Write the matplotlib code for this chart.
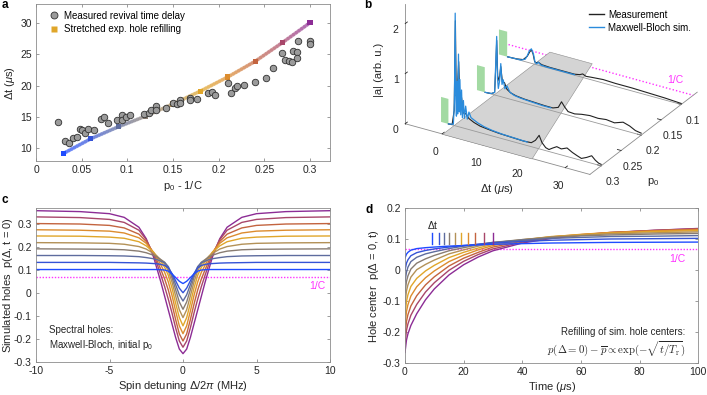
import numpy as np
import matplotlib
matplotlib.use('Agg')
import matplotlib.pyplot as plt
from matplotlib.collections import LineCollection
from matplotlib.lines import Line2D
from matplotlib.colors import to_rgb
from mpl_toolkits.mplot3d.art3d import Poly3DCollection

plt.rcParams['font.family'] = ['Liberation Sans', 'DejaVu Sans']
plt.rcParams['axes.unicode_minus'] = False
plt.rcParams['mathtext.fontset'] = 'custom'
plt.rcParams['mathtext.rm'] = 'Liberation Sans'
plt.rcParams['mathtext.it'] = 'Liberation Sans:italic'

# ---------------- data ----------------
colors10 = ['#1f4cff', '#3553d6', '#5e6c9e', '#887c72', '#b39157',
            '#e0a62a', '#dc8c2e', '#c3643f', '#a8466a', '#8c2c95']

# panel a: measured revival delays
meas_x = [0.0237, 0.0318, 0.0365, 0.0409, 0.0445, 0.0482, 0.0507, 0.0536, 0.0573, 0.0639,
          0.0708, 0.0748, 0.0785, 0.089, 0.0945, 0.0945, 0.0985, 0.1029, 0.1182, 0.1237,
          0.1255, 0.131, 0.131, 0.142, 0.150, 0.154, 0.158, 0.158, 0.169, 0.169,
          0.176, 0.1887, 0.1923, 0.196, 0.2099, 0.2135, 0.218, 0.2204, 0.228, 0.2398,
          0.2515, 0.2599, 0.269, 0.2726, 0.2774, 0.280, 0.2818, 0.2854, 0.2861, 0.2865,
          0.300, 0.300]
meas_y = [14.26, 11.17, 10.8, 11.6, 11.76, 13.03, 12.9, 12.5, 13.1, 12.9,
          14.7, 14.95, 14.1, 14.6, 15.3, 14.6, 15.05, 15.3, 15.5, 15.7,
          16.06, 16.75, 16.2, 16.5, 17.3, 17.1, 17.7, 17.3, 18.1, 17.7,
          17.9, 18.8, 19.04, 18.6, 20.4, 18.8, 19.7, 19.95, 20.2, 20.6,
          21.2, 22.9, 25.2, 24.1, 24.0, 23.8, 25.5, 25.4, 24.4, 27.1,
          27.1, 26.6]
# panel a: stretched-exponential model points
model_x = [0.03, 0.06, 0.09, 0.12, 0.15, 0.18, 0.21, 0.24, 0.27, 0.30]
model_y = [9.2, 11.55, 13.45, 15.15, 17.1, 19.15, 21.4, 23.9, 26.9, 30.05]

# panel c: spectral hole profiles (half profile, mirrored)
detuning = [0, 0.25, 0.5, 0.75, 1.0, 1.25, 1.5, 1.75, 2.0, 2.5, 3.0, 4.0, 5.0, 7.0, 10.0]
hole_01 = [0.040, 0.050, 0.066, 0.082, 0.094, 0.099, 0.100, 0.101, 0.101, 0.101, 0.101, 0.101, 0.101, 0.101, 0.101]
hole_02 = [0.000, 0.020, 0.052, 0.084, 0.108, 0.119, 0.123, 0.126, 0.127, 0.129, 0.130, 0.131, 0.132, 0.132, 0.132]
hole_03 = [-0.036, -0.009, 0.035, 0.079, 0.114, 0.131, 0.137, 0.144, 0.148, 0.153, 0.157, 0.160, 0.161, 0.162, 0.162]
hole_04 = [-0.072, -0.040, 0.013, 0.067, 0.110, 0.133, 0.144, 0.155, 0.163, 0.174, 0.181, 0.187, 0.189, 0.190, 0.191]
hole_05 = [-0.108, -0.074, -0.014, 0.047, 0.096, 0.125, 0.142, 0.158, 0.171, 0.190, 0.201, 0.211, 0.215, 0.217, 0.218]
hole_06 = [-0.144, -0.108, -0.046, 0.021, 0.076, 0.111, 0.135, 0.157, 0.176, 0.204, 0.222, 0.237, 0.242, 0.246, 0.247]
hole_07 = [-0.178, -0.144, -0.080, -0.011, 0.047, 0.089, 0.120, 0.150, 0.176, 0.215, 0.239, 0.260, 0.268, 0.272, 0.274]
hole_08 = [-0.210, -0.179, -0.117, -0.049, 0.012, 0.060, 0.100, 0.137, 0.172, 0.223, 0.255, 0.282, 0.293, 0.299, 0.301]
hole_09 = [-0.237, -0.210, -0.153, -0.088, -0.028, 0.027, 0.076, 0.122, 0.166, 0.231, 0.272, 0.306, 0.319, 0.327, 0.330]
hole_10 = [-0.265, -0.245, -0.195, -0.135, -0.075, -0.015, 0.045, 0.100, 0.155, 0.235, 0.285, 0.328, 0.344, 0.353, 0.357]
inv_C = 0.07

# panel d: hole-center refilling
time_us = [0, 0.5, 1, 2, 4, 7, 10, 15, 20, 25, 30, 40, 50, 60, 70, 85, 100]
refill_01 = [0.040, 0.052, 0.058, 0.065, 0.070, 0.073, 0.075, 0.078, 0.080, 0.082, 0.084, 0.086, 0.088, 0.089, 0.090, 0.0905, 0.091]
refill_02 = [0.000, 0.023, 0.034, 0.047, 0.057, 0.064, 0.069, 0.075, 0.080, 0.084, 0.088, 0.093, 0.097, 0.099, 0.101, 0.102, 0.103]
refill_03 = [-0.036, -0.006, 0.010, 0.028, 0.042, 0.053, 0.060, 0.070, 0.078, 0.084, 0.090, 0.097, 0.103, 0.106, 0.109, 0.110, 0.112]
refill_04 = [-0.072, -0.036, -0.018, 0.004, 0.023, 0.037, 0.048, 0.063, 0.073, 0.082, 0.090, 0.099, 0.106, 0.111, 0.114, 0.117, 0.119]
refill_05 = [-0.108, -0.067, -0.047, -0.022, 0.002, 0.019, 0.033, 0.053, 0.066, 0.078, 0.088, 0.099, 0.108, 0.113, 0.118, 0.121, 0.124]
refill_06 = [-0.144, -0.101, -0.079, -0.052, -0.026, -0.002, 0.016, 0.041, 0.058, 0.072, 0.084, 0.098, 0.109, 0.115, 0.120, 0.125, 0.128]
refill_07 = [-0.178, -0.133, -0.111, -0.083, -0.053, -0.024, -0.002, 0.028, 0.049, 0.066, 0.080, 0.097, 0.108, 0.116, 0.122, 0.127, 0.131]
refill_08 = [-0.210, -0.165, -0.143, -0.115, -0.082, -0.047, -0.021, 0.014, 0.039, 0.058, 0.075, 0.094, 0.107, 0.115, 0.122, 0.128, 0.133]
refill_09 = [-0.237, -0.194, -0.173, -0.145, -0.110, -0.070, -0.040, 0.000, 0.029, 0.051, 0.069, 0.091, 0.105, 0.114, 0.122, 0.129, 0.134]
refill_10 = [-0.265, -0.225, -0.205, -0.178, -0.140, -0.095, -0.060, -0.015, 0.018, 0.043, 0.063, 0.088, 0.103, 0.113, 0.121, 0.129, 0.135]
revival_dt = [9.2, 11.55, 13.45, 15.15, 17.1, 19.15, 21.4, 23.9, 26.9, 30.05]

# panel b: time traces at three p0
trace_p0 = [0.3, 0.2, 0.1]
pulse_start = [-3.0, -4.0, -8.4]
pulse_end = [-1.2, -2.1, -6.4]
pulse_height = 0.5
meas_t_p030 = [-1.2, -0.3, 0.2, 0.5, 0.7, 0.95, 1.3, 1.6, 2.0, 2.4, 3.0, 3.8, 5.0, 6.5, 8.5, 11, 14, 17, 19,
               20.0, 20.9, 21.6, 22.5, 23.3, 24.2, 25.2, 26.3, 27.7, 29.0, 30.2, 31.2, 32.5, 33.7, 34.6, 35.4, 36.0]
meas_a_p030 = [0.0, 0.01, 0.3, 2.1, 0.6, 0.7, 1.3, 0.5, 0.6, 0.3, 0.3, 0.22, 0.17, 0.13, 0.11, 0.09, 0.08, 0.07, 0.08,
               0.15, 0.27, 0.14, 0.06, 0.04, 0.09, 0.14, 0.12, 0.17, 0.11, 0.07, 0.04, 0.09, 0.15, 0.08, 0.04, 0.03]
sim_t_p030 = [-1.2, 0.0, 0.25, 0.45, 0.6, 0.75, 0.9, 1.05, 1.25, 1.45, 1.6, 1.8, 2.0, 2.2, 2.45, 2.7, 3.0,
              3.4, 3.8, 4.3, 5.0, 6.0, 7.5, 9.5, 12, 15, 18]
sim_a_p030 = [0.0, 0.02, 0.45, 2.25, 0.55, 0.2, 0.9, 0.25, 1.45, 0.3, 0.95, 0.25, 0.75, 0.2, 0.55, 0.2, 0.45,
              0.2, 0.35, 0.25, 0.22, 0.18, 0.14, 0.11, 0.09, 0.08, 0.07]
meas_t_p020 = [-2.0, -0.5, 0.3, 0.6, 0.8, 1.05, 1.4, 1.8, 2.2, 2.7, 3.3, 4.2, 5.5, 7.5, 10, 12.5, 14.5, 15.8,
               16.6, 17.4, 18.2, 19.8, 21.5, 23.5, 25.5, 27.5, 29.5, 31.6, 33.2, 34.6, 36.0]
meas_a_p020 = [0.0, 0.01, 0.05, 0.6, 1.1, 0.4, 0.3, 0.6, 0.3, 0.3, 0.18, 0.13, 0.1, 0.08, 0.07, 0.06, 0.06, 0.1,
               0.23, 0.14, 0.07, 0.06, 0.09, 0.11, 0.1, 0.12, 0.1, 0.16, 0.12, 0.06, 0.04]
sim_t_p020 = [-2.0, -0.5, 0.3, 0.6, 0.8, 1.0, 1.2, 1.5, 1.8, 2.1, 2.4, 2.8, 3.3, 4.0, 5.0, 6.5, 8.0, 10.0, 12.0, 14.0]
sim_a_p020 = [0.0, 0.01, 0.05, 0.7, 1.18, 0.35, 0.15, 0.3, 0.66, 0.25, 0.35, 0.18, 0.25, 0.14, 0.1, 0.08, 0.07,
              0.06, 0.05, 0.05]
meas_t_p010 = [-6.3, -4.0, -2.5, -1.5, -0.9, -0.5, -0.1, 0.3, 0.7, 1.2, 2.0, 4.0, 7.0, 10.0, 11.3, 12.0, 12.8,
               14.0, 17.0, 20.0, 24.0, 28.0, 32.0, 36.0]
meas_a_p010 = [0.0, 0.01, 0.03, 0.12, 0.22, 0.27, 0.2, 0.05, 0.04, 0.06, 0.03, 0.02, 0.02, 0.02, 0.04, 0.07, 0.04,
               0.05, 0.07, 0.06, 0.06, 0.05, 0.04, 0.02]
sim_t_p010 = [-6.3, -3.0, -2.0, -1.5, -1.0, -0.5, 0.0, 0.4, 0.8, 1.2, 1.8, 3.0, 6.0, 10.0]
sim_a_p010 = [0.0, 0.01, 0.05, 0.13, 0.24, 0.29, 0.2, 0.04, 0.02, 0.06, 0.02, 0.01, 0.01, 0.01]
revival_line_p0 = [0.328, 0.06]
revival_line_dt = [21.8, 10.3]

# ---------------- figure ----------------
W, H = 707, 395
fig = plt.figure(figsize=(W / 100, H / 100), dpi=100)

SPINE = '#8c8c8c'
TXT = '#262626'
FS = 7.5
MAG = '#ff33ff'


def px_rect(left, top, right, bottom):
    return [left / W, 1 - bottom / H, (right - left) / W, (bottom - top) / H]


def style2d(ax):
    for s in ax.spines.values():
        s.set_color(SPINE)
        s.set_linewidth(0.6)
    ax.tick_params(direction='in', length=2.5, width=0.6, color=SPINE, labelcolor=TXT,
                   labelsize=FS, top=True, right=True, pad=3)


# ---- 3D panel b (x = p0, y = delta t, z = |a|) ----
S3 = 330
zoom3 = 0.968
cx, cy = 551.2, 47.9
L3 = cx - 0.5135 * S3
B3 = (H - cy) - 0.5135 * S3
ax3 = fig.add_axes([L3 / W, B3 / H, S3 / W, S3 / H], projection='3d', computed_zorder=False)
ax3.set_facecolor('none')
ax3.patch.set_visible(False)
ax3.set_proj_type('ortho')
ax3.view_init(elev=27.3, azim=30.9)
ax3.set_xlim(0.06, 0.328)
ax3.set_ylim(-9, 36)
ax3.set_zlim(0, 2.4)
ax3.set_box_aspect((1.0, 1.03, 0.647), zoom=zoom3)
ax3.grid(False)
for axis in (ax3.xaxis, ax3.yaxis, ax3.zaxis):
    axis.set_pane_color((1, 1, 1, 0))
    axis.pane.set_edgecolor((1, 1, 1, 0))
    axis.line.set_color(SPINE)
    axis.line.set_linewidth(0.6)
    axis._axinfo['tick']['inward_factor'] = 0.0
    axis._axinfo['tick']['outward_factor'] = 0.25
    axis._axinfo['tick']['color'] = SPINE
    axis._axinfo['tick']['linewidth'] = {True: 0.6, False: 0.4}
ax3.set_yticks([0, 10, 20, 30])
ax3.set_xticks([0.1, 0.15, 0.2, 0.25, 0.3])
ax3.set_xticklabels(['0.1', '0.15', '0.2', '0.25', '0.3'])
ax3.set_zticks([0, 1, 2])
ax3.tick_params(labelsize=FS, colors=TXT, pad=0)
ax3.tick_params(axis='z', pad=-4)

ax3.plot([inv_C, inv_C], [-9, 36], [0, 0], color=MAG, ls=(0, (1, 1.5)), lw=1.0, zorder=1)
plane = Poly3DCollection([[(revival_line_p0[0], 0, 0), (revival_line_p0[0], revival_line_dt[0], 0),
                           (revival_line_p0[1], revival_line_dt[1], 0), (revival_line_p0[1], 0, 0)]],
                         facecolor=(0.83, 0.83, 0.83), edgecolor=(0.55, 0.55, 0.55), linewidth=0.4)
plane.set_zorder(2)
ax3.add_collection3d(plane)

traces = {
    0.1: (meas_t_p010, meas_a_p010, sim_t_p010, sim_a_p010),
    0.2: (meas_t_p020, meas_a_p020, sim_t_p020, sim_a_p020),
    0.3: (meas_t_p030, meas_a_p030, sim_t_p030, sim_a_p030),
}
for j, p0 in enumerate([0.1, 0.2, 0.3]):
    mt, ma, st, sa = traces[p0]
    idx = trace_p0.index(p0)
    zb = 3 + 5 * j
    ax3.plot([p0, p0], [mt[0], 36], [0, 0], color='#9a9a9a', lw=0.6, zorder=zb)
    x0, x1 = pulse_start[idx], pulse_end[idx]
    box = Poly3DCollection([[(p0, x0, 0), (p0, x1, 0), (p0, x1, pulse_height), (p0, x0, pulse_height)]],
                           facecolor=(0.55, 0.82, 0.55), edgecolor='none', alpha=0.8)
    box.set_zorder(zb + 1)
    ax3.add_collection3d(box)
    ax3.plot(np.full(len(mt), p0), mt, ma, color='#222222', lw=0.8, zorder=zb + 2)
    ax3.plot(np.full(len(st), p0), st, sa, color='#2a8bdc', lw=0.9, zorder=zb + 3)

fig.text(379 / W, 1 - 70 / H, '|a| (arb. u.)', rotation=90, ha='center', va='center',
         fontsize=8, color=TXT)
fig.text(496.7 / W, 1 - 188.5 / H, r'$\Delta$t ($\mu$s)', ha='center', va='center', fontsize=8, color=TXT)
fig.text(653 / W, 1 - 182 / H, r'p$_0$', ha='center', va='center', fontsize=8, color=TXT)
fig.text(675 / W, 1 - 80 / H, '1/C', ha='center', va='center', fontsize=FS, color=MAG)
leg_b = [Line2D([], [], color='#222222', lw=1.0), Line2D([], [], color='#2a8bdc', lw=1.0)]
fig.legend(leg_b, ['Measurement', 'Maxwell-Bloch sim.'], loc='upper left',
           bbox_to_anchor=(585 / W, 1 - 6 / H), frameon=False, fontsize=7,
           handlelength=1.6, handletextpad=0.4, labelspacing=0.3, borderaxespad=0)

# ---- panel a ----
axa = fig.add_axes(px_rect(36, 4.3, 330, 161))
style2d(axa)
for i in range(len(model_x) - 1):
    c0 = np.array(to_rgb(colors10[i]))
    c1 = np.array(to_rgb(colors10[i + 1]))
    s = np.linspace(0, 1, 11)
    xs = model_x[i] + (model_x[i + 1] - model_x[i]) * s
    ys = model_y[i] + (model_y[i + 1] - model_y[i]) * s
    segs = [[(xs[k], ys[k]), (xs[k + 1], ys[k + 1])] for k in range(10)]
    cols = [tuple(c0 + (c1 - c0) * (k + 0.5) / 10) + (0.45,) for k in range(10)]
    axa.add_collection(LineCollection(segs, colors=cols, linewidths=2.6, capstyle='round', zorder=2))
axa.scatter(model_x, model_y, marker='s', s=14, c=colors10, edgecolors='none', zorder=3)
axa.scatter(meas_x, meas_y, marker='o', s=22, c='#9b9b9b', edgecolors='#303030', linewidths=0.6, zorder=4)
axa.set_xlim(0, 0.322)
axa.set_ylim(8, 33)
axa.set_xticks([0, 0.05, 0.1, 0.15, 0.2, 0.25, 0.3])
axa.set_xticklabels(['0', '0.05', '0.1', '0.15', '0.2', '0.25', '0.3'])
axa.set_yticks([10, 15, 20, 25, 30])
axa.set_xlabel(r'p$_0$ - 1/C', fontsize=8, color=TXT, labelpad=3)
axa.set_ylabel(r'$\Delta$t ($\mu$s)', fontsize=8, color=TXT)
axa.yaxis.set_label_coords(-0.063, 0.5)
leg_a = [Line2D([], [], marker='o', ls='none', markersize=5, markerfacecolor='#9b9b9b',
                markeredgecolor='#303030', markeredgewidth=0.6),
         Line2D([], [], marker='s', ls='none', markersize=4, markerfacecolor='#e0a62a',
                markeredgecolor='none')]
axa.legend(leg_a, ['Measured revival time delay', 'Stretched exp. hole refilling'], loc='upper left',
           bbox_to_anchor=(0.03, 0.985), frameon=False, fontsize=7, handlelength=1.0,
           handletextpad=0.6, labelspacing=0.35, borderaxespad=0)

# ---- panel c ----
axc = fig.add_axes(px_rect(36, 207.7, 330, 361.7))
style2d(axc)
holes = [hole_01, hole_02, hole_03, hole_04, hole_05, hole_06, hole_07, hole_08, hole_09, hole_10]
d = np.array(detuning)
xfull = np.concatenate([-d[::-1], d[1:]])
axc.axhline(inv_C, color=MAG, ls=(0, (1, 1.2)), lw=1.0, zorder=1)
for k in range(9, -1, -1):
    v = np.array(holes[k])
    yfull = np.concatenate([v[::-1], v[1:]])
    axc.plot(xfull, yfull, color=colors10[k], lw=1.0, zorder=2 + (9 - k) * 0.01)
axc.set_xlim(-10, 10)
axc.set_ylim(-0.3, 0.37)
axc.set_xticks([-10, -5, 0, 5, 10])
axc.set_yticks([-0.3, -0.2, -0.1, 0, 0.1, 0.2, 0.3])
axc.set_yticklabels(['-0.3', '-0.2', '-0.1', '0', '0.1', '0.2', '0.3'])
axc.set_xlabel(r'Spin detuning $\Delta/2\pi$ (MHz)', fontsize=8, color=TXT, labelpad=2)
axc.set_ylabel(r'Simulated holes  p($\Delta$, t = 0)', fontsize=8, color=TXT)
axc.yaxis.set_label_coords(-0.07, 0.5)
axc.text(9.7, 0.031, '1/C', color=MAG, fontsize=FS, ha='right', va='center')
axc.text(-9.1, -0.163, 'Spectral holes:', color=TXT, fontsize=7, ha='left', va='center')
axc.text(-9.1, -0.228, r'Maxwell-Bloch, initial p$_0$', color=TXT, fontsize=7, ha='left', va='center')

# ---- panel d ----
axd = fig.add_axes(px_rect(405, 208.3, 698.3, 363.3))
style2d(axd)
refills = [refill_01, refill_02, refill_03, refill_04, refill_05, refill_06, refill_07, refill_08,
           refill_09, refill_10]
axd.axhline(inv_C, color=MAG, ls=(0, (1, 1.2)), lw=1.0, zorder=1)
for k in range(9, -1, -1):
    axd.plot(time_us, refills[k], color=colors10[k], lw=1.0, zorder=2)
for k in range(10):
    axd.plot([revival_dt[k], revival_dt[k]], [0.086, 0.121], color=colors10[k], lw=1.0, zorder=3)
axd.text(7.5, 0.146, r'$\Delta$t', color=TXT, fontsize=7.5, ha='left', va='center')
axd.set_xlim(0, 100)
axd.set_ylim(-0.3, 0.2)
axd.set_xticks([0, 20, 40, 60, 80, 100])
axd.set_yticks([-0.3, -0.2, -0.1, 0, 0.1, 0.2])
axd.set_yticklabels(['-0.3', '-0.2', '-0.1', '0', '0.1', '0.2'])
axd.set_xlabel(r'Time ($\mu$s)', fontsize=8, color=TXT, labelpad=2)
axd.set_ylabel(r'Hole center  p($\Delta$ = 0, t)', fontsize=8, color=TXT)
axd.yaxis.set_label_coords(-0.082, 0.5)
axd.text(95.5, 0.037, '1/C', color=MAG, fontsize=FS, ha='right', va='center')
axd.text(95.5, -0.2, 'Refilling of sim. hole centers:', color=TXT, fontsize=7, ha='right', va='center')
axd.text(95.5, -0.252, r'$p(\Delta=0)-\overline{p}\propto\exp(-\sqrt{t/T_\mathrm{r}})$', color=TXT,
         fontsize=7.8, ha='right', va='center', math_fontfamily='cm')

# panel letters
for lab, x, y in [('a', 2, 5), ('b', 364, 5), ('c', 2, 200), ('d', 366, 210)]:
    fig.text(x / W, 1 - y / H, lab, fontsize=8.5, fontweight='bold', ha='left', va='center', color='black')

fig.savefig('out.png', dpi=100)
